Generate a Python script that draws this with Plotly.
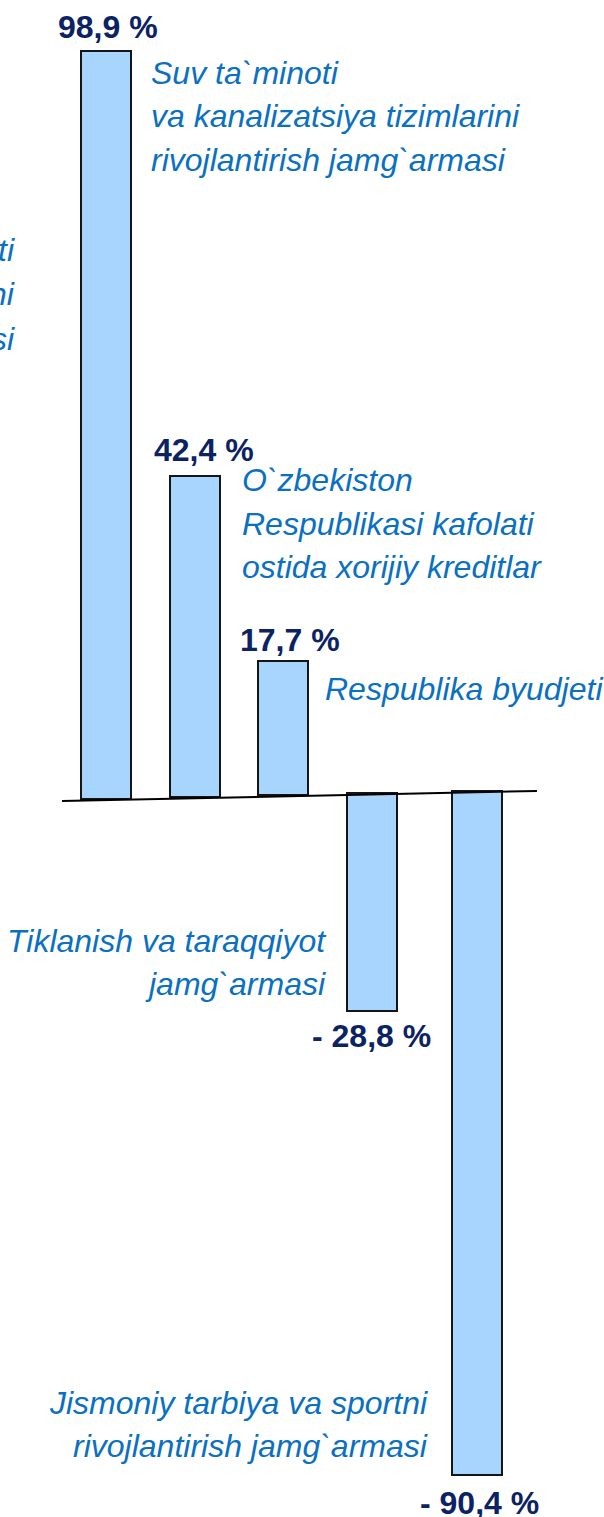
import plotly.graph_objects as go

# ---- data ----
categories = [
    "Suv ta`minoti va kanalizatsiya tizimlarini rivojlantirish jamg`armasi",
    "O`zbekiston Respublikasi kafolati ostida xorijiy kreditlar",
    "Respublika byudjeti",
    "Tiklanish va taraqqiyot jamg`armasi",
    "Jismoniy tarbiya va sportni rivojlantirish jamg`armasi",
]
values = [98.9, 42.4, 17.7, -28.8, -90.4]
value_labels = ["98,9 %", "42,4 %", "17,7 %", "- 28,8 %", "- 90,4 %"]
label_lines = [
    ["Suv ta`minoti", "va kanalizatsiya tizimlarini", "rivojlantirish jamg`armasi"],
    ["O`zbekiston", "Respublikasi kafolati", "ostida xorijiy kreditlar"],
    ["Respublika byudjeti"],
    ["Tiklanish va taraqqiyot", "jamg`armasi"],
    ["Jismoniy tarbiya va sportni", "rivojlantirish jamg`armasi"],
]
# partially visible label of an off-picture item (left edge)
cut_label_lines = ["ti", "ni", "si"]

# ---- layout / style ----
bar_pos = [0, 1, 2, 3, 4.18]
tilt = 0.25            # slope of the tilted baseline (value units per bar step)
line_offset = -0.15
bases = [tilt * p for p in bar_pos]

W, H = 604, 1517
x_range = [-1.1955, 5.6164]
y_range = [-94.91, 105.62]

FILL = "#A7D5FE"
EDGE = "#151515"
TXT_BLUE = "#0A70C2"
NAVY = "#0B2263"
FONT = "Arial, Liberation Sans, sans-serif"
FS = 32
LINE_GAP = 43.5

# label placement in pixels relative to the bar end
val_shift = [(1.5, 24), (9, 26.4), (6.7, 21.3), (-0.5, -24.8), (2.4, -28)]
lab_anchor = ["left", "left", "left", "right", "right"]
lab_xshift = [43, 45.3, 39.7, -44, -46.6]
lab_first_y = [-21.7, -4.1, -27.7, 70.7, 72]

fig = go.Figure()
fig.add_trace(go.Bar(
    x=bar_pos, y=values, base=bases, width=0.564,
    marker=dict(color=FILL, line=dict(color=EDGE, width=2)),
    hoverinfo="skip", text=categories, textposition="none",
))

# tilted baseline
x0, x1 = bar_pos[0] - 0.496, bar_pos[-1] + 0.68
fig.add_shape(type="line", x0=x0, x1=x1,
              y0=tilt * x0 + line_offset, y1=tilt * x1 + line_offset,
              line=dict(color="black", width=2), layer="above")

ann = []
for i, (p, b, v) in enumerate(zip(bar_pos, bases, values)):
    end = b + v
    xs, ys = val_shift[i]
    ann.append(dict(x=p, y=end, xref="x", yref="y", text="<b>%s</b>" % value_labels[i],
                    showarrow=False, xanchor="center", yanchor="middle",
                    xshift=xs, yshift=ys,
                    font=dict(family=FONT, size=FS, color=NAVY)))
    for k, line in enumerate(label_lines[i]):
        ann.append(dict(x=p, y=end, xref="x", yref="y", text="<i>%s</i>" % line,
                        showarrow=False, xanchor=lab_anchor[i], yanchor="middle",
                        xshift=lab_xshift[i], yshift=lab_first_y[i] - k * LINE_GAP,
                        font=dict(family=FONT, size=FS, color=TXT_BLUE)))

for k, line in enumerate(cut_label_lines):
    ann.append(dict(x=bar_pos[0], y=bases[0] + values[0], xref="x", yref="y",
                    text="<i>%s</i>" % line, showarrow=False,
                    xanchor="right", yanchor="middle",
                    xshift=-89, yshift=-199 - k * 44.5,
                    font=dict(family=FONT, size=FS, color=TXT_BLUE)))

fig.update_layout(
    width=W, height=H, margin=dict(l=0, r=0, t=0, b=0, pad=0),
    paper_bgcolor="white", plot_bgcolor="white", showlegend=False,
    annotations=ann, bargap=0,
    xaxis=dict(range=x_range, visible=False, fixedrange=True),
    yaxis=dict(range=y_range, visible=False, fixedrange=True),
)
fig.write_html("out.html", config={"displayModeBar": False},
               post_script="document.body.style.margin='0';document.body.style.overflow='hidden';")
